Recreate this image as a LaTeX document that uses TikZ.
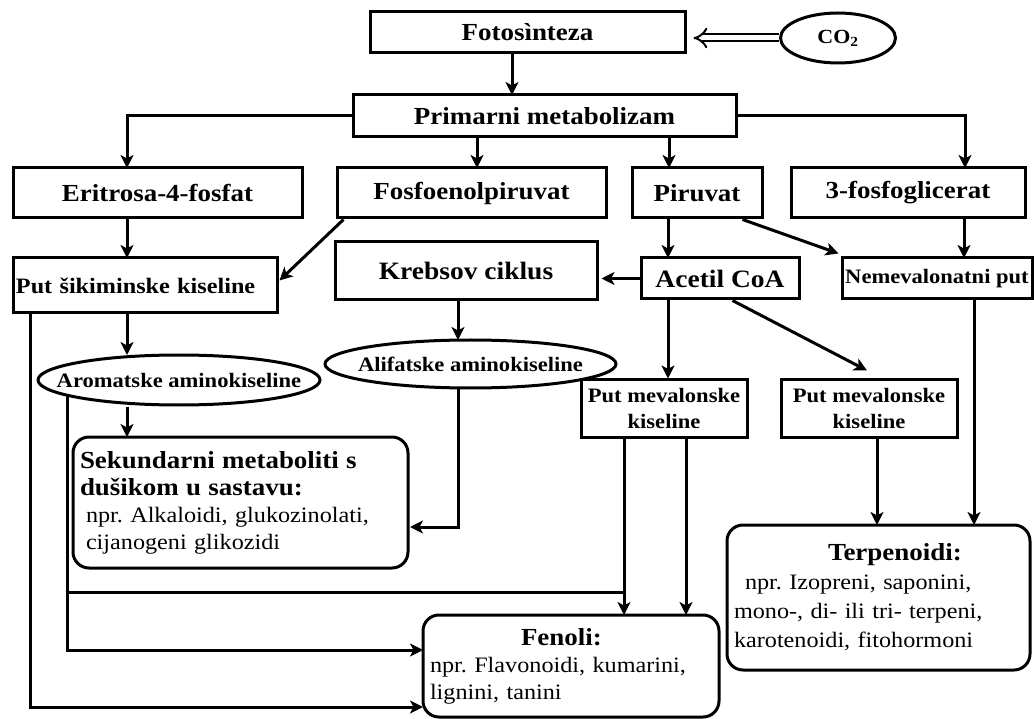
\documentclass[tikz,border=0pt]{standalone}
\usepackage{fontspec}
\setmainfont{Liberation Serif}[FakeStretch=1.1]
\usetikzlibrary{
    shapes.geometric,
    arrows.meta,
    calc,
    positioning
}
\frenchspacing
\newcommand{\hd}[1]{{\bfseries\fontsize{24.5}{27}\selectfont #1}}
\tikzset{
  box/.style = {
      draw,
      rectangle,
      line width=3pt,
      inner sep=2pt,
      align=center,
      font=\bfseries\fontsize{24.5}{28}\selectfont
  },
  subbox/.style = {
      box,
      font=\bfseries\fontsize{20.5}{26}\selectfont
  },
  bigbox/.style = {
      box,
      font=\bfseries\fontsize{25}{28}\selectfont
  },
  oval/.style = {
      draw,
      ellipse,
      line width=3pt,
      inner sep=0pt
  },
  ovaltext/.style = {
      font=\bfseries\fontsize{20.5}{24}\selectfont
  },
  result/.style = {
      draw,
      rectangle,
      rounded corners=16pt,
      line width=3pt,
      align=left,
      inner xsep=7pt,
      font=\fontsize{22}{27}\selectfont
  },
  arr/.style = {
      line width=3pt,
      -{Stealth[length=13pt, width=13pt, inset=3.5pt]}
  },
  link/.style = {
      line width=3pt
  }
}
\begin{document}
\begin{tikzpicture}[x=1pt, y=-1pt]
    \useasboundingbox (0,0) rectangle (1034,719);
    % Nodes
    \node[box, minimum width=315pt, minimum height=41pt] (foto) at (527.5,32.5) {Fotosìnteza};
    \node[oval, minimum width=115pt, minimum height=50pt, font=\bfseries\fontsize{20}{24}\selectfont] (co2) at (838,38) {CO\textsubscript{2}};
    \node[box, minimum width=383pt, minimum height=42pt] (prim) at (544.5,116) {Primarni metabolizam};
    \node[box, minimum width=289pt, minimum height=50pt] (eri) at (157.5,193) {Eritrosa-4-fosfat};
    \node[box, minimum width=269pt, minimum height=50pt] (fosfo) at (471.5,193) {Fosfoenolpiruvat};
    \node[box, minimum width=130pt, minimum height=50pt] (piru) at (697,193) {Piruvat};
    \node[box, minimum width=234pt, minimum height=50pt] (fgl) at (908,193) {3-fosfoglicerat};
    \node[subbox, font=\bfseries\fontsize{22}{26}\selectfont, text width=258pt, inner xsep=3pt, minimum height=55pt, align=left] (shik) at (145,285.5) {Put šikiminske kiseline};
    \node[bigbox, minimum width=262pt, minimum height=58pt] (krebs) at (466,271) {Krebsov ciklus};
    \node[bigbox, minimum width=158pt, minimum height=41pt] (acetil) at (720,278.5) {Acetil CoA};
    \node[subbox, minimum width=190pt, minimum height=41pt] (nemev) at (937,278.5) {Nemevalonatni put};
    \node[oval, minimum width=282pt, minimum height=50pt, label={[ovaltext]center:Aromatske aminokiseline}] (arom) at (179,380) {};
    \node[oval, minimum width=291pt, minimum height=48pt, label={[ovaltext]center:Alifatske aminokiseline}] (alif) at (470.5,364) {};
    \node[subbox, minimum width=166pt, minimum height=57pt] (pmev1) at (664,408.5) {Put mevalonske\\kiseline};
    \node[subbox, minimum width=176pt, minimum height=57pt] (pmev2) at (869,408.5) {Put mevalonske\\kiseline};
    \node[result, text width=321pt, minimum height=131pt] (sek) at (240.5,502.5)
        {\hd{Sekundarni metaboliti s}\\ \hd{dušikom u sastavu:}\\ \hspace*{6pt}npr. Alkaloidi, glukozinolati,\\ \hspace*{6pt}cijanogeni glikozidi};
    \node[result, text width=289pt, minimum height=145pt, font=\fontsize{22}{29}\selectfont] (terp) at (878.5,597.5)
        {\hspace*{94pt}\hd{Terpenoidi:}\\ \hspace*{11pt}npr. Izopreni, saponini,\\ mono-, di- ili tri- terpeni,\\ karotenoidi, fitohormoni};
    \node[result, text width=282pt, minimum height=102pt] (fen) at (571,666)
        {\hspace*{91pt}\hd{Fenoli:}\\ npr. Flavonoidi, kumarini,\\ lignini, tanini};
    % Arrow ends
    \coordinate (fa) at (512,95);
    \coordinate (eb) at (127,168);
    \coordinate (fc) at (477,168);
    \coordinate (pd) at (669,168);
    \coordinate (ge) at (965,168);
    \coordinate (sf) at (127,258);
    \coordinate (ah) at (668,258);
    \coordinate (nj) at (964,258);
    \coordinate (kl) at (458,340);
    \coordinate (sm) at (127,355);
    \coordinate (an) at (127,437);
    \coordinate (ao) at (410,527);
    \coordinate (tr) at (877,525);
    \coordinate (ts) at (974,525);
    \coordinate (ft) at (624,615);
    \coordinate (fu) at (686,615);
    \coordinate (av) at ($(arom.center)+(-112,15)$);
    \coordinate (bj) at (624,592);
    \coordinate (fv) at (423,650);
    \coordinate (sw) at (30,313);
    \coordinate (fw) at (423,707);
    % Edges
    \draw[line width=2pt, double, double distance=5pt, -{Implies}, shorten >=7pt] (co2.west) -- (co2.west -| foto.east);
    \draw[arr] (foto.south -| fa) -- (fa);
    \draw[arr] (prim.west) -| (eb);
    \draw[arr] (prim.south -| fc) -- (fc);
    \draw[arr] (prim.south -| pd) -- (pd);
    \draw[arr] (prim.east) -| (ge);
    \draw[arr] (eri.south -| sf) -- (sf);
    \draw[arr] ($(fosfo.south west)+(8,0)$) -- ($(shik.east)+(1,-5)$);
    \draw[arr] (piru.south -| ah) -- (ah);
    \draw[arr] ($(piru.south east)+(-21,0)$) -- ($(nemev.north west)+(-2,-3)$);
    \draw[arr] (fgl.south -| nj) -- (nj);
    \draw[arr, shorten >=3pt] (acetil.west) -- (acetil.west -| krebs.east);
    \draw[arr] (krebs.south -| kl) -- (kl);
    \draw[arr] (shik.south -| sm) -- (sm);
    \draw[arr] (arom.south -| an) -- (an);
    \draw[arr] (alif.south -| kl) |- (ao);
    \draw[arr] (acetil.south -| ah) -- (pmev1.north -| ah);
    \draw[arr] ($(acetil.south east)+(-68,0)$) -- ($(pmev2.north)+(-2,-8)$);
    \draw[arr] (pmev2.south -| tr) -- (tr);
    \draw[arr] (nemev.south -| ts) -- (ts);
    \draw[arr] (pmev1.south -| ft) -- (ft);
    \draw[arr] (pmev1.south -| fu) -- (fu);
    \draw[arr] (av) |- (fv);
    \draw[link] (av |- bj) -- (bj);
    \draw[arr] (shik.south -| sw) |- (fw);
\end{tikzpicture}
\end{document}
